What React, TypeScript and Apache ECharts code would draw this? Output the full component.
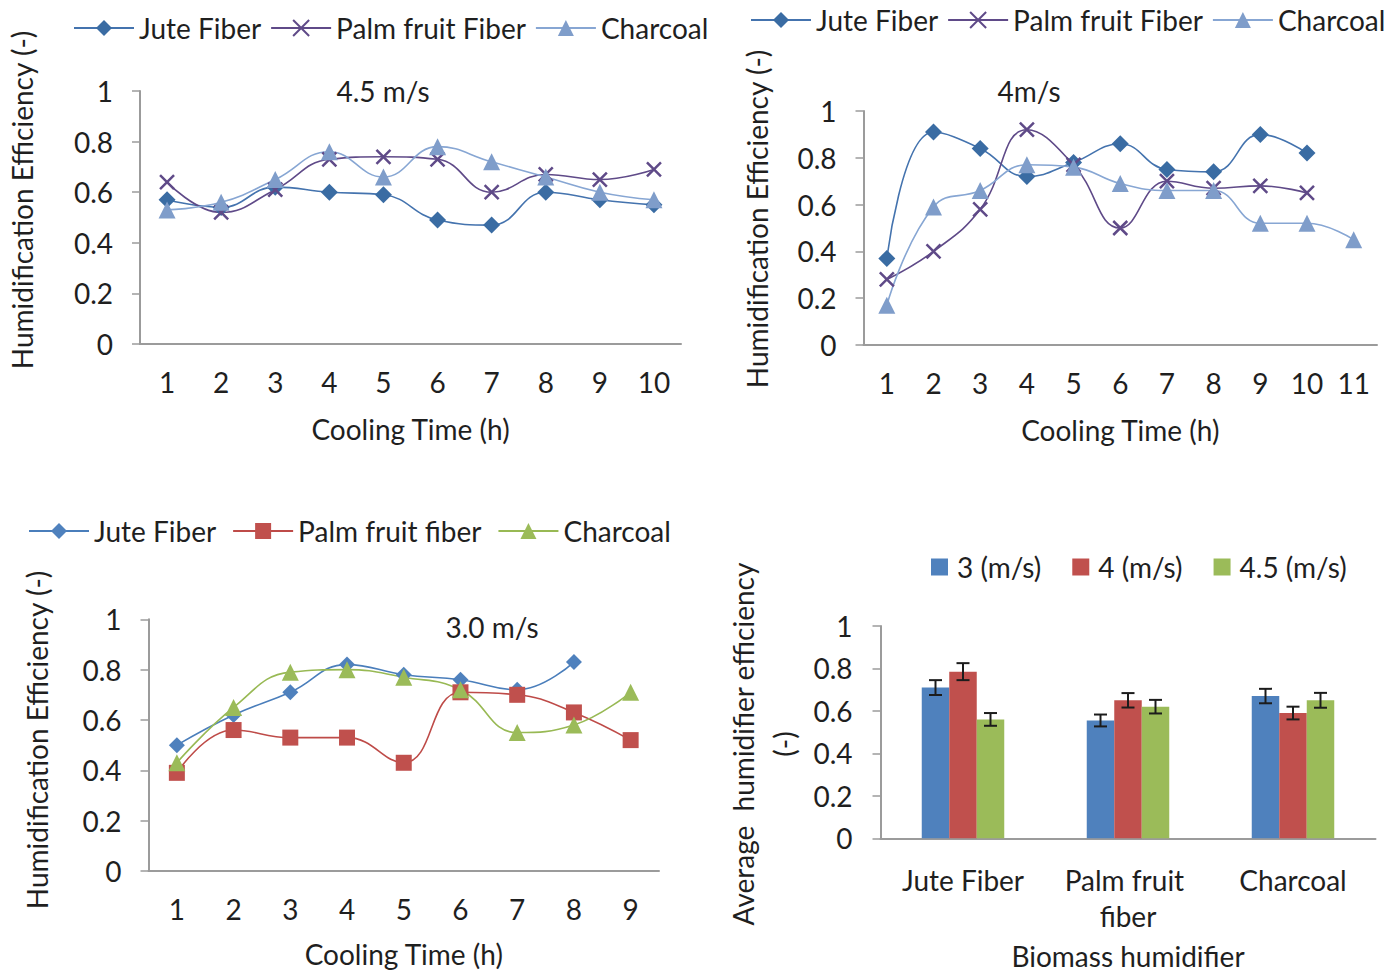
import React, { useEffect, useRef } from 'react';
import * as echarts from 'echarts';

const FONT = 'Lato, "Noto Sans", sans-serif';
const FS = 28;
const TEXT = '#1f1f1f';
const AXIS = '#9b9b9b';

// ---------- data ----------
const hours10 = ['1', '2', '3', '4', '5', '6', '7', '8', '9', '10'];
const hours11 = ['1', '2', '3', '4', '5', '6', '7', '8', '9', '10', '11'];
const hours9 = ['1', '2', '3', '4', '5', '6', '7', '8', '9'];

const seriesNamesTop = ['Jute Fiber', 'Palm fruit Fiber', 'Charcoal'];
const seriesNamesBottom = ['Jute Fiber', 'Palm fruit fiber', 'Charcoal'];

// 4.5 m/s
const jute45 = [0.57, 0.54, 0.62, 0.6, 0.59, 0.49, 0.47, 0.6, 0.57, 0.55];
const palm45 = [0.64, 0.52, 0.61, 0.73, 0.74, 0.73, 0.6, 0.67, 0.65, 0.69];
const charcoal45 = [0.53, 0.56, 0.65, 0.76, 0.66, 0.78, 0.72, 0.66, 0.6, 0.57];

// 4 m/s
const jute4 = [0.37, 0.91, 0.84, 0.72, 0.78, 0.86, 0.75, 0.74, 0.9, 0.82];
const palm4 = [0.28, 0.4, 0.58, 0.92, 0.77, 0.5, 0.7, 0.67, 0.68, 0.65];
const charcoal4 = [0.17, 0.59, 0.66, 0.77, 0.76, 0.69, 0.66, 0.66, 0.52, 0.52, 0.45];

// 3.0 m/s
const jute3 = [0.5, 0.62, 0.71, 0.82, 0.78, 0.76, 0.72, 0.83];
const palm3 = [0.39, 0.56, 0.53, 0.53, 0.43, 0.71, 0.7, 0.63, 0.52];
const charcoal3 = [0.43, 0.65, 0.79, 0.8, 0.77, 0.72, 0.55, 0.58, 0.71];

// averages
const humidifiers = ['Jute Fiber', 'Palm fruit fiber', 'Charcoal'];
const speedNames = ['3 (m/s)', '4 (m/s)', '4.5 (m/s)'];
const avg3 = [0.71, 0.555, 0.67];
const avg4 = [0.785, 0.65, 0.59];
const avg45 = [0.56, 0.62, 0.65];
const err3 = [0.035, 0.028, 0.034];
const err4 = [0.04, 0.034, 0.03];
const err45 = [0.03, 0.032, 0.035];

// ---------- helpers ----------
const txt = { fontFamily: FONT, fontSize: FS, color: TEXT };
const X_SYMBOL = 'path://M0,0L10,10M10,0L0,10';

function yAxisCfg(margin: number) {
  return {
    type: 'value',
    min: 0,
    max: 1,
    interval: 0.2,
    axisLine: { show: true, lineStyle: { color: AXIS, width: 2 } },
    axisTick: { show: true, length: 8, lineStyle: { color: AXIS, width: 1.5 } },
    splitLine: { show: false },
    axisLabel: { ...txt, margin },
  };
}

function xAxisCfg(cats: string[], labelMargin: number, nameGap: number, name: string, extraLabel: any = {}) {
  return {
    type: 'category',
    data: cats,
    boundaryGap: true,
    name,
    nameLocation: 'middle',
    nameGap,
    nameTextStyle: { ...txt },
    axisLine: { show: true, lineStyle: { color: AXIS, width: 2 } },
    axisTick: { show: false },
    axisLabel: { ...txt, margin: labelMargin, interval: 0, ...extraLabel },
  };
}

function lineSeries(name: string, data: number[], symbol: string, size: number, lineColor: string, markColor: string, cross = false) {
  return {
    type: 'line',
    name,
    data,
    smooth: 0.45,
    symbol,
    symbolSize: size,
    showAllSymbol: true,
    lineStyle: { color: lineColor, width: 1.6 },
    itemStyle: cross
      ? { color: markColor, borderColor: markColor, borderWidth: 2.5 }
      : { color: markColor, borderWidth: 0 },
  };
}

function rotText(x: number, y: number, text: string) {
  return {
    type: 'text',
    x,
    y,
    rotation: Math.PI / 2,
    style: {
      text,
      fill: TEXT,
      font: `${FS}px ${FONT}`,
      align: 'center',
      verticalAlign: 'middle',
      textAlign: 'center',
      textVerticalAlign: 'middle',
    },
  };
}

function titleText(x: number, y: number, text: string) {
  return {
    type: 'text',
    x,
    y,
    style: {
      text,
      fill: TEXT,
      font: `${FS}px ${FONT}`,
      align: 'center',
      verticalAlign: 'middle',
      textAlign: 'center',
      textVerticalAlign: 'middle',
    },
  };
}

function legendCfg(left: number, top: number, gap: number, names: string[], extra: any = {}) {
  return {
    left,
    top,
    padding: 0,
    itemGap: gap,
    itemWidth: 60,
    itemHeight: 20,
    data: names,
    textStyle: { ...txt },
    ...extra,
  };
}

// ---------- options ----------
const option1 = {
  animation: false,
  grid: { left: 140, top: 91, width: 541, height: 253 },
  legend: legendCfg(73, 14, 9, seriesNamesTop),
  xAxis: xAxisCfg(hours10, 24, 71, 'Cooling Time (h)'),
  yAxis: yAxisCfg(27),
  graphic: [titleText(383, 91, '4.5 m/s'), rotText(22, 200, 'Humidification Efficiency (-)')],
  series: [
    lineSeries(seriesNamesTop[0], jute45, 'diamond', 17, '#4473AE', '#3A6CA3'),
    lineSeries(seriesNamesTop[1], palm45, X_SYMBOL, 14, '#5F4A88', '#5F4A88', true),
    lineSeries(seriesNamesTop[2], charcoal45, 'triangle', 17, '#87A6D3', '#7F9DCA'),
  ],
};

const option2 = {
  animation: false,
  grid: { left: 163.5, top: 111, width: 513.5, height: 234 },
  legend: legendCfg(50, 6, 9, seriesNamesTop),
  xAxis: xAxisCfg(hours11, 24, 71, 'Cooling Time (h)'),
  yAxis: yAxisCfg(27),
  graphic: [titleText(329, 91, '4m/s'), rotText(57, 219, 'Humidification Efficiency (-)')],
  series: [
    lineSeries(seriesNamesTop[0], jute4, 'diamond', 17, '#4473AE', '#3A6CA3'),
    lineSeries(seriesNamesTop[1], palm4, X_SYMBOL, 14, '#5F4A88', '#5F4A88', true),
    lineSeries(seriesNamesTop[2], charcoal4, 'triangle', 17, '#87A6D3', '#7F9DCA'),
  ],
};

const option3 = {
  animation: false,
  grid: { left: 148.5, top: 139.3, width: 510.5, height: 255.7 },
  legend: legendCfg(28, 37, 16, seriesNamesBottom),
  xAxis: xAxisCfg(hours9, 24, 69, 'Cooling Time (h)'),
  yAxis: yAxisCfg(27),
  graphic: [titleText(492, 147, '3.0 m/s'), rotText(37, 260, 'Humidification Efficiency (-)')],
  series: [
    lineSeries(seriesNamesBottom[0], jute3, 'diamond', 16, '#4A7EBB', '#4F81BD'),
    lineSeries(seriesNamesBottom[1], palm3, 'rect', 16, '#BE4B48', '#C0504D'),
    lineSeries(seriesNamesBottom[2], charcoal3, 'triangle', 17, '#98B954', '#9BBB59'),
  ],
};

const BAR_W = 27.5;
const barColors = ['#4F81BD', '#C0504D', '#9BBB59'];
const avgs = [avg3, avg4, avg45];
const errs = [err3, err4, err45];
const errData: number[][] = [];
avgs.forEach((arr, s) => arr.forEach((v, c) => errData.push([c, s, v - errs[s][c], v + errs[s][c]])));

const option4 = {
  animation: false,
  grid: { left: 180.5, top: 146, width: 495, height: 212.3 },
  legend: legendCfg(231, 73, 31, speedNames, {
    itemWidth: 17,
    itemHeight: 17,
    icon: 'rect',
    textStyle: { ...txt, padding: [0, 0, 0, 4] },
  }),
  xAxis: xAxisCfg(humidifiers, 24, 104, 'Biomass humidifier', { width: 150, overflow: 'break', lineHeight: 36 }),
  yAxis: yAxisCfg(28),
  graphic: [
    rotText(43, 264, 'Average  humidifier efficiency'),
    rotText(84, 264, '(-)'),
  ],
  series: [
    ...speedNames.map((n, i) => ({
      type: 'bar',
      name: n,
      data: avgs[i],
      barWidth: BAR_W,
      barGap: '0%',
      itemStyle: { color: barColors[i] },
    })),
    {
      type: 'custom',
      name: 'error',
      data: errData,
      encode: { x: 0, y: [2, 3] },
      z: 10,
      renderItem: (params: any, api: any) => {
        const c = api.value(0);
        const s = api.value(1);
        const lo = api.coord([c, api.value(2)]);
        const hi = api.coord([c, api.value(3)]);
        const x = lo[0] + (s - 1) * BAR_W;
        const cap = 6.5;
        const st = { stroke: '#1c1c1c', lineWidth: 2 };
        return {
          type: 'group',
          children: [
            { type: 'line', shape: { x1: x, y1: hi[1], x2: x, y2: lo[1] }, style: st },
            { type: 'line', shape: { x1: x - cap, y1: hi[1], x2: x + cap, y2: hi[1] }, style: st },
            { type: 'line', shape: { x1: x - cap, y1: lo[1], x2: x + cap, y2: lo[1] }, style: st },
          ],
        };
      },
    },
  ],
};

function Chart({ option, left, top, width, height }: any) {
  const ref = useRef<HTMLDivElement>(null);
  useEffect(() => {
    const chart = echarts.init(ref.current!, undefined, { renderer: 'svg' });
    chart.setOption(option);
    return () => chart.dispose();
  }, [option]);
  return <div ref={ref} style={{ position: 'absolute', left, top, width, height }} />;
}

export default function App() {
  return (
    <div style={{ position: 'fixed', left: 0, top: 0, width: 1390, height: 973, background: '#fff' }}>
      <Chart option={option1} left={0} top={0} width={745} height={480} />
      <Chart option={option2} left={700} top={0} width={690} height={480} />
      <Chart option={option3} left={0} top={480} width={700} height={493} />
      <Chart option={option4} left={700} top={480} width={690} height={493} />
    </div>
  );
}
